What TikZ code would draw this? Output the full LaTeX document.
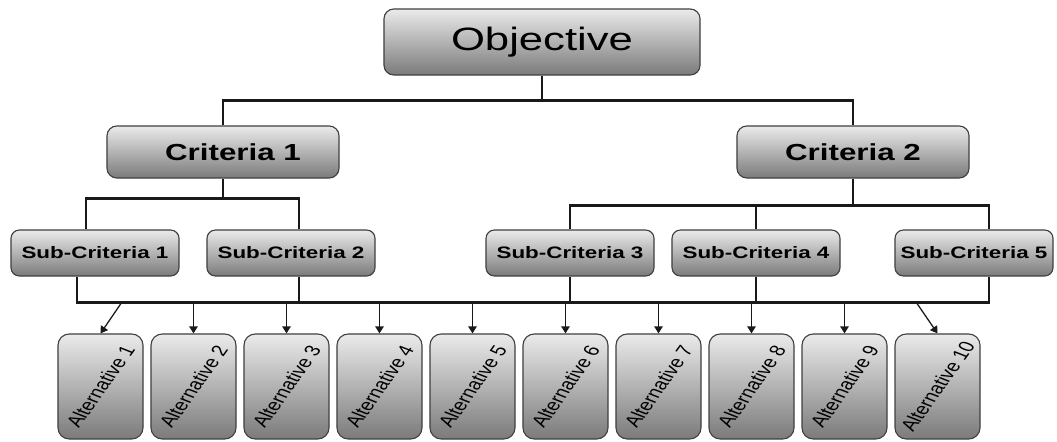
\documentclass[tikz,border=0pt]{standalone}
\usepackage{fontspec}
\usepackage{graphicx}
\setmainfont{Liberation Sans}
\newfontfamily\widefont{Liberation Sans}[FakeStretch=1.35]
\usetikzlibrary{calc, arrows.meta}

\tikzset{
	box/.style={draw=black!75, line width=0.8pt, rounded corners=7pt, top color=black!8, bottom color=black!52, inner sep=0pt, align=center},
	objbox/.style={box, minimum width=7.9cm, minimum height=1.65cm, font=\widefont\fontsize{23}{27}\selectfont},
	critbox/.style={box, minimum width=5.8cm, minimum height=1.3cm, font=\widefont\bfseries\fontsize{16.5}{20}\selectfont},
	subbox/.style={box, rounded corners=6pt, minimum width=4.2cm, minimum height=1.15cm, font=\widefont\bfseries\fontsize{11.8}{14}\selectfont},
	altbox/.style={box, rounded corners=8pt, minimum width=2.125cm, minimum height=2.625cm, font=\fontsize{11.5}{14}\selectfont},
	conn/.style={line width=1.6pt, black!90},
	arr/.style={line width=0.9pt, black!90, -{Triangle[length=5pt,width=6pt]}},
}
\newcommand{\alttext}[1]{\scalebox{1.35}[1]{\rotatebox{62}{#1}}}

\begin{document}
\begin{tikzpicture}[x=0.025cm, y=-0.025cm]
	\useasboundingbox (0,0) rectangle (1057,441);

	\node[objbox] (obj) at (542,42) {Objective};

	\node[critbox] (c1) at (223,152) {\hspace{0.5cm}Criteria 1};
	\node[critbox] (c2) at (853,152) {Criteria 2};

	\node[subbox] (s1) at (95,253) {Sub-Criteria 1};
	\node[subbox] (s2) at (291,253) {Sub-Criteria 2};
	\node[subbox] (s3) at (570,253) {Sub-Criteria 3};
	\node[subbox] (s4) at (756,253) {Sub-Criteria 4};
	\node[subbox, minimum width=3.95cm] (s5) at (974,253) {Sub-Criteria 5};

	\foreach \i in {1,...,10}
		\node[altbox] (a\i) at ({100.5+93*(\i-1)},386.5) {\alttext{Alternative \i}};

	% objective to criteria
	\draw[conn] (obj.south) -- ++(0,25);
	\draw[conn] (c1.north) |- ($(obj.south)+(0,25)$) -| (c2.north);

	% criteria to sub-criteria
	\coordinate (bus1) at ($(c1.south)+(0,20)$);
	\coordinate (bus2) at ($(c2.south)+(0,27)$);
	\draw[conn] (c1.south) -- (bus1);
	\draw[conn] ($(s1.north)+(-9,0)$) |- (bus1) -| ($(s2.north)+(8,0)$);
	\draw[conn] (c2.south) -- (bus2);
	\draw[conn] (s3.north) |- (bus2) -| ($(s5.north)+(15,0)$);
	\draw[conn] (s4.north) -- (s4.north |- bus2);

	% sub-criteria to alternatives
	\coordinate (bus) at ($(s1.south)+(0,26)$);
	\draw[conn] ($(s1.south)+(-18,0)$) -- ++(0,26) -| ($(s5.south)+(15,0)$);
	\draw[conn] ($(s2.south)+(8,0)$) -- ++(0,26);
	\draw[conn] (s3.south) -- ++(0,26);
	\draw[conn] (s4.south) -- ++(0,26);

	\coordinate (b1) at (122,302);
	\coordinate (b10) at (916,302);
	\draw[arr] (b1) -- (a1.north);
	\foreach \i in {2,...,9}
		\draw[arr] (a\i.north |- bus) -- (a\i.north);
	\draw[arr] (b10) -- (a10.north);
\end{tikzpicture}
\end{document}
